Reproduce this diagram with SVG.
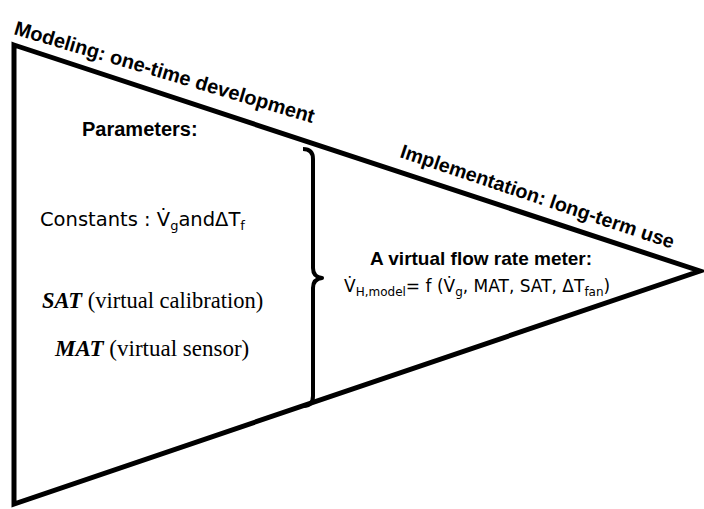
<svg xmlns="http://www.w3.org/2000/svg" width="704" height="509" viewBox="0 0 704 509">
<style>
.shape{fill:none;stroke:#000;stroke-width:5;stroke-linejoin:miter}
.brace{fill:none;stroke:#000;stroke-width:4;stroke-linejoin:round}
.lbl{font-family:"Liberation Sans",Arial,sans-serif;font-weight:bold;font-size:20px;fill:#000}
.math{font-family:"DejaVu Sans","Noto Sans",sans-serif;fill:#000}
.tm{font-family:"Liberation Serif","Times New Roman",serif;font-size:22.5px;fill:#000}
</style>
<rect width="704" height="509" fill="#fff"/>
<g id="triangle">
<polygon class="shape" points="14,45 700,271 14,504"/>
</g>
<g id="connectors">
<path class="brace" d="M303,149 Q313,149 313,159 L313,268 Q313,277 322,278 Q313,279 313,288 L313,396 Q313,406 303,406"/>
</g>
<g id="modeling-label">
<text class="lbl" x="13" y="34" transform="rotate(16.6 13 34)">Modeling: one-time development</text>
</g>
<g id="implementation-label">
<text class="lbl" x="399" y="157" transform="rotate(18.6 399 157)" style="font-size:19.7px">Implementation: long-term use</text>
</g>
<g id="parameters">
<text class="lbl" x="82" y="136">Parameters:</text>
<text class="math" x="40" y="226" font-size="19.5">Constants : V̇<tspan font-size="13" dy="4">g</tspan><tspan dy="-4">andΔT</tspan><tspan font-size="13" dy="4">f</tspan></text>
<text class="tm" x="42" y="308"><tspan font-weight="bold" font-style="italic">SAT</tspan> (virtual calibration)</text>
<text class="tm" x="55" y="356" style="font-size:23px"><tspan font-weight="bold" font-style="italic">MAT</tspan> (virtual sensor)</text>
</g>
<g id="meter">
<text class="lbl" x="370" y="265" style="font-size:19px">A virtual flow rate meter:</text>
<text class="math" x="344" y="292" font-size="17">V̇<tspan font-size="12" dy="4">H,model</tspan><tspan dy="-4">= f (V̇</tspan><tspan font-size="12" dy="4">g</tspan><tspan dy="-4">, MAT, SAT, ΔT</tspan><tspan font-size="12" dy="4">fan</tspan><tspan dy="-4">)</tspan></text>
</g>
</svg>
